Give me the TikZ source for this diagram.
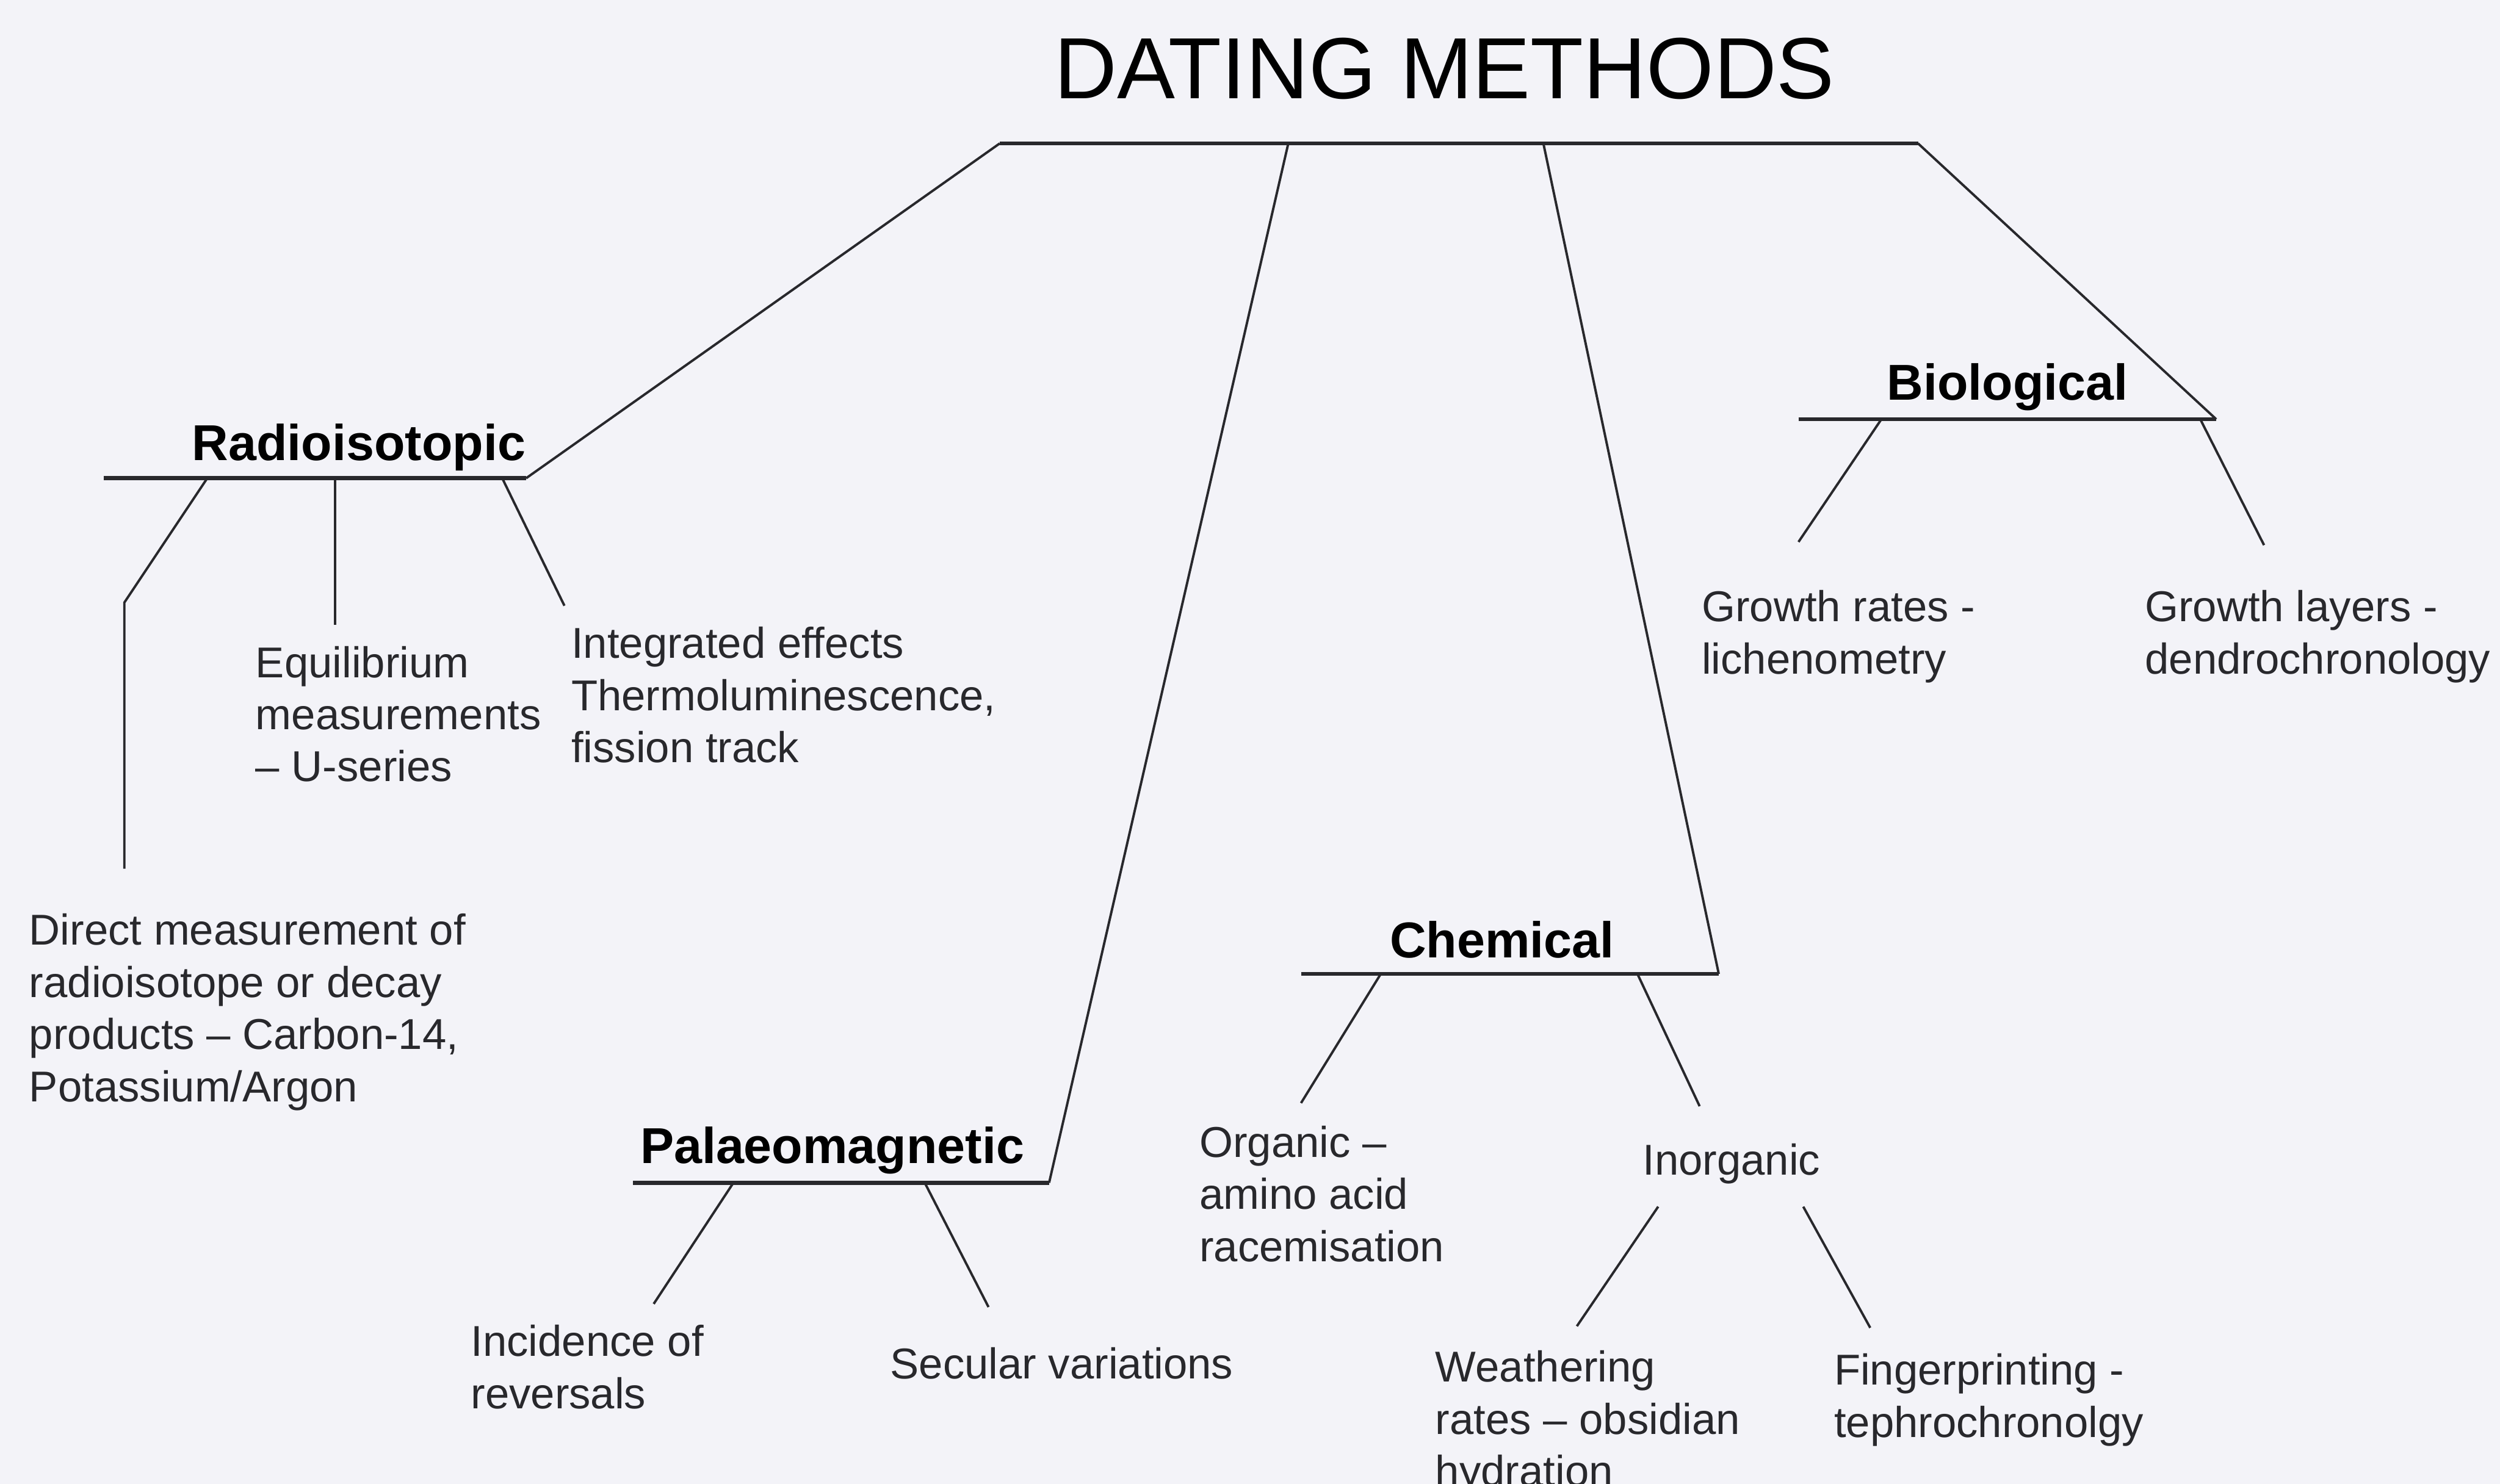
\documentclass[tikz,border=0pt]{standalone}
\usepackage{fontspec}
\setmainfont{Liberation Sans}
\definecolor{paper}{RGB}{243,243,248}
\definecolor{ink}{RGB}{40,40,44}
\tikzset{
  leaf/.style={anchor=north west,align=left,inner sep=0,text=ink,font=\fontsize{15.4}{18.6}\selectfont},
  head/.style={anchor=base,inner sep=0,font=\fontsize{18}{21}\selectfont\bfseries},
  bar/.style={draw=ink,line width=1.4pt},
  twig/.style={draw=ink,line width=0.85pt}
}
\begin{document}
\begin{tikzpicture}[x=0.2mm,y=-0.2mm]
\fill[paper] (0,0) rectangle (1568,931);
\useasboundingbox (0,0) rectangle (1568,931);
\node[inner sep=0,font=\fontsize{31}{36}\selectfont] (title) at (906,43) {DATING METHODS};
\coordinate (tl) at (627,90);
\coordinate (tp) at (808,90);
\coordinate (tc) at (968,90);
\coordinate (tr) at (1203,90);
\node[head] (radio) at (225,289) {Radioisotopic};
\coordinate (rl) at (65,300);
\coordinate (rr) at (330,300);
\coordinate (r1) at (130,300);
\coordinate (r1k) at (78,378);
\coordinate (r1e) at (78,545);
\coordinate (r2) at (210,300);
\coordinate (r2e) at (210,392);
\coordinate (r3) at (315,300);
\coordinate (r3e) at (354,380);
\node[leaf] (direct) at (18,573) {Direct measurement of\\radioisotope or decay\\products -- Carbon-14,\\Potassium/Argon};
\node[leaf] (equil) at (160,405) {Equilibrium\\measurements\\-- U-series};
\node[leaf] (integ) at (358,393) {Integrated effects\\Thermoluminescence,\\fission track};
\node[head] (palaeo) at (522,730) {Palaeomagnetic};
\coordinate (pl) at (397,742);
\coordinate (pr) at (658,742);
\coordinate (p1) at (460,742);
\coordinate (p1e) at (410,818);
\coordinate (p2) at (580,742);
\coordinate (p2e) at (620,820);
\node[leaf] (incid) at (295,831) {Incidence of\\reversals};
\node[leaf] (secul) at (558,845) {Secular variations};
\node[head] (chem) at (942,601) {Chemical};
\coordinate (cl) at (816,611);
\coordinate (cr) at (1078,611);
\coordinate (c1) at (866,611);
\coordinate (c1e) at (816,692);
\coordinate (c2) at (1027,611);
\coordinate (c2e) at (1066,694);
\node[leaf] (organ) at (752,706) {Organic --\\amino acid\\racemisation};
\node[inner sep=0,text=ink,font=\fontsize{15.4}{18.6}\selectfont] (inorg) at (1086,730) {Inorganic};
\coordinate (i1) at (1040,757);
\coordinate (i1e) at (989,832);
\coordinate (i2) at (1131,757);
\coordinate (i2e) at (1173,833);
\node[leaf] (weath) at (900,847) {Weathering\\rates -- obsidian\\hydration};
\node[leaf] (finger) at (1150,849) {Fingerprinting -\\tephrochronolgy};
\node[head] (bio) at (1259,251) {Biological};
\coordinate (bl) at (1128,263);
\coordinate (br) at (1390,263);
\coordinate (b1) at (1180,263);
\coordinate (b1e) at (1128,340);
\coordinate (b2) at (1380,263);
\coordinate (b2e) at (1420,342);
\node[leaf] (grate) at (1067,370) {Growth rates -\\lichenometry};
\node[leaf] (glayer) at (1345,370) {Growth layers -\\dendrochronology};
\draw[bar] (tl)--(tr);
\draw[twig] (tl)--(rr);
\draw[twig] (tp)--(pr);
\draw[twig] (tc)--(cr);
\draw[twig] (tr)--(br);
\draw[bar] (rl)--(rr);
\draw[bar] (pl)--(pr);
\draw[bar] (cl)--(cr);
\draw[bar] (bl)--(br);
\draw[twig] (r1)--(r1k)--(r1e);
\draw[twig] (r2)--(r2e);
\draw[twig] (r3)--(r3e);
\draw[twig] (p1)--(p1e);
\draw[twig] (p2)--(p2e);
\draw[twig] (c1)--(c1e);
\draw[twig] (c2)--(c2e);
\draw[twig] (i1)--(i1e);
\draw[twig] (i2)--(i2e);
\draw[twig] (b1)--(b1e);
\draw[twig] (b2)--(b2e);
\end{tikzpicture}
\end{document}
